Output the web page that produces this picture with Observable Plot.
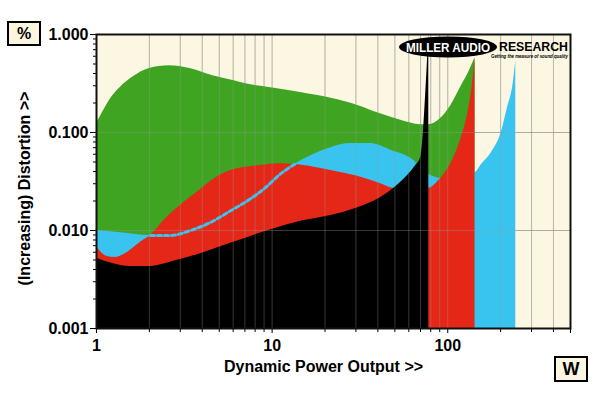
<!DOCTYPE html>
<html><head><meta charset="utf-8">
<script src="https://cdn.jsdelivr.net/npm/d3@7"></script>
<script src="https://cdn.jsdelivr.net/npm/@observablehq/plot@0.6"></script>
<style>
html,body{margin:0;padding:0;background:#fff;}
#chart{width:600px;height:393px;}
</style></head><body><div id="chart"></div>
<script>
// Power (W) and distortion (%) for each trace
const greenW = [1, 1.05, 1.2, 1.37, 1.62, 2, 2.6, 3.4, 4.6, 6, 7.3, 9.4, 14.5, 22, 31, 41, 54, 70, 78, 91, 104, 118, 133, 143];
const greenPct = [0.124, 0.145, 0.22, 0.29, 0.37, 0.45, 0.48, 0.45, 0.38, 0.34, 0.31, 0.29, 0.256, 0.222, 0.188, 0.156, 0.133, 0.12, 0.12, 0.139, 0.188, 0.287, 0.43, 0.58];

const cyanW = [1, 1.37, 2.03, 2.64, 3.43, 4.46, 5.8, 7.54, 9.19, 11.2, 13.6, 16.6, 21.6, 28, 36.4, 47.4, 61.6, 77, 91.3, 110, 130, 144, 154, 176, 201, 219, 236, 244];
const cyanPct = [0.01, 0.0095, 0.0089, 0.0089, 0.01, 0.0121, 0.0159, 0.0211, 0.0275, 0.038, 0.048, 0.058, 0.07, 0.077, 0.077, 0.066, 0.0545, 0.038, 0.034, 0.035, 0.037, 0.039, 0.046, 0.061, 0.098, 0.18, 0.32, 0.54];

const redW = [1, 1.13, 1.28, 1.46, 1.78, 2.03, 2.47, 3.0, 3.9, 4.5, 5.8, 8.6, 11, 14, 19, 24.5, 32, 41.5, 48.6, 60, 78, 91, 104, 118, 130, 139, 143];
const redPct = [0.0069, 0.0055, 0.0053, 0.0058, 0.0076, 0.0089, 0.0132, 0.018, 0.026, 0.032, 0.041, 0.046, 0.048, 0.047, 0.043, 0.039, 0.035, 0.03, 0.027, 0.026, 0.027, 0.034, 0.048, 0.083, 0.156, 0.34, 0.58];

const blackW = [1, 1.56, 2.03, 2.82, 3.91, 5.8, 10.05, 14.5, 21.6, 29.9, 41.5, 54, 65.7, 70, 72, 74, 76, 78];
const blackPct = [0.0052, 0.0043, 0.0043, 0.0049, 0.0058, 0.0074, 0.0103, 0.0124, 0.0142, 0.0168, 0.0217, 0.031, 0.046, 0.055, 0.08, 0.17, 0.4, 1.0];

const xMajor = [1, 10, 100, 500];
const xMinor = [2, 3, 4, 5, 6, 7, 8, 9, 20, 30, 40, 50, 60, 70, 80, 90, 200, 300, 400];
const xGrid = [2, 3, 4, 5, 6, 7, 8, 9, 10, 20, 30, 40, 50, 60, 70, 80, 90, 100, 200, 300, 400];
const yMajor = [0.001, 0.01, 0.1, 1];
const yMinor = [0.002,0.003,0.004,0.005,0.006,0.007,0.008,0.009,0.02,0.03,0.04,0.05,0.06,0.07,0.08,0.09,0.2,0.3,0.4,0.5,0.6,0.7,0.8,0.9];
const yGrid = [0.01, 0.1];

const rows = (w, p) => w.map((x, i) => ({x, y: p[i]}));
const green = rows(greenW, greenPct);
const cyan = rows(cyanW, cyanPct);
const red = rows(redW, redPct);
const black = rows(blackW, blackPct);
const dashed = cyan.filter(d => d.x >= 2 && d.x <= 13.6);

const FLOOR = 0.001;
const font = "'Liberation Sans', Arial, sans-serif";

const svg = Plot.plot({
  width: 600, height: 393,
  marginLeft: 96, marginRight: 30, marginTop: 34, marginBottom: 65,
  style: {background: "transparent", fontFamily: font, color: "#000"},
  x: {type: "log", domain: [1, 500], label: null},
  y: {type: "log", domain: [0.001, 1], label: null},
  marks: [
    Plot.frame({fill: "#fcf7e2", stroke: null}),
    Plot.ruleX(xGrid, {stroke: "#8a8a8a", strokeOpacity: 0.45}),
    Plot.ruleY(yGrid, {stroke: "#8a8a8a", strokeOpacity: 0.6}),
    Plot.areaY(green, {x: "x", y1: FLOOR, y2: "y", fill: "#3fa422", curve: "monotone-x"}),
    Plot.areaY(cyan, {x: "x", y1: FLOOR, y2: "y", fill: "#38c4ef", curve: "monotone-x"}),
    Plot.areaY(red, {x: "x", y1: FLOOR, y2: "y", fill: "#e52718", curve: "monotone-x"}),
    Plot.areaY(black, {x: "x", y1: FLOOR, y2: "y", fill: "#000", curve: "monotone-x"}),
    Plot.lineY(dashed, {x: "x", y: "y", stroke: "#3cc3f0", strokeWidth: 3, strokeDasharray: "4,3", curve: "monotone-x"}),
    Plot.ruleX(xGrid, {stroke: "#9a9a9a", strokeOpacity: 0.35}),
    Plot.ruleY(yGrid, {stroke: "#9a9a9a", strokeOpacity: 0.35}),
    Plot.axisX(xMinor, {tickSize: 4, tickFormat: () => "", label: null}),
    Plot.axisX(xMajor, {tickSize: 5, tickPadding: 6, tickFormat: d => String(d), fontSize: 16, fontWeight: "bold", label: null}),
    Plot.axisY(yMinor, {tickSize: 3, tickFormat: () => "", label: null}),
    Plot.axisY(yMajor, {tickSize: 6, tickPadding: 2, tickFormat: d3.format(".3f"), fontSize: 16, fontWeight: "bold", label: null}),
    Plot.text(["Dynamic Power Output >>"], {frameAnchor: "bottom", dy: 38, dx: -10, lineAnchor: "middle", textAnchor: "middle", fontSize: 16, fontWeight: "bold"}),
    Plot.text(["(Increasing) Distortion >>"], {frameAnchor: "left", dx: -72, dy: 7, rotate: -90, lineAnchor: "middle", textAnchor: "middle", fontSize: 16, fontWeight: "bold"}),
    Plot.frame({stroke: "#111", strokeWidth: 2})
  ]
});
document.getElementById("chart").appendChild(svg);

const s = d3.select(svg);
// unit boxes
function box(x, y, w, h, t, fs) {
  const g = s.append("g");
  g.append("rect").attr("x", x).attr("y", y).attr("width", w).attr("height", h)
    .attr("fill", "#fbf6e0").attr("stroke", "#000").attr("stroke-width", 2);
  g.append("text").attr("x", x + w / 2).attr("y", y + h / 2).attr("dy", "0.36em")
    .attr("text-anchor", "middle").attr("font-family", font).attr("font-weight", "bold")
    .attr("font-size", fs).text(t);
}
box(8, 22, 32, 23, "%", 16);
box(555, 357, 32, 24, "W", 18);

// logo
const lg = s.append("g").attr("text-anchor", "start");
lg.append("ellipse").attr("cx", 448).attr("cy", 47).attr("rx", 49).attr("ry", 10.5).attr("fill", "#000");
lg.append("text").attr("x", 406).attr("y", 52).attr("fill", "#fff").attr("font-family", font)
  .attr("font-weight", "bold").attr("font-size", 13).attr("textLength", 84)
  .attr("lengthAdjust", "spacingAndGlyphs").text("MILLER AUDIO");
lg.append("text").attr("x", 499).attr("y", 51).attr("fill", "#000").attr("font-family", font)
  .attr("font-weight", "bold").attr("font-size", 12).attr("textLength", 69)
  .attr("lengthAdjust", "spacingAndGlyphs").text("RESEARCH");
lg.append("text").attr("x", 491).attr("y", 58).attr("fill", "#000").attr("font-family", font)
  .attr("font-weight", "bold").attr("font-style", "italic").attr("font-size", 6).attr("textLength", 77)
  .attr("lengthAdjust", "spacingAndGlyphs").text("Getting the measure of sound quality");
</script></body></html>
